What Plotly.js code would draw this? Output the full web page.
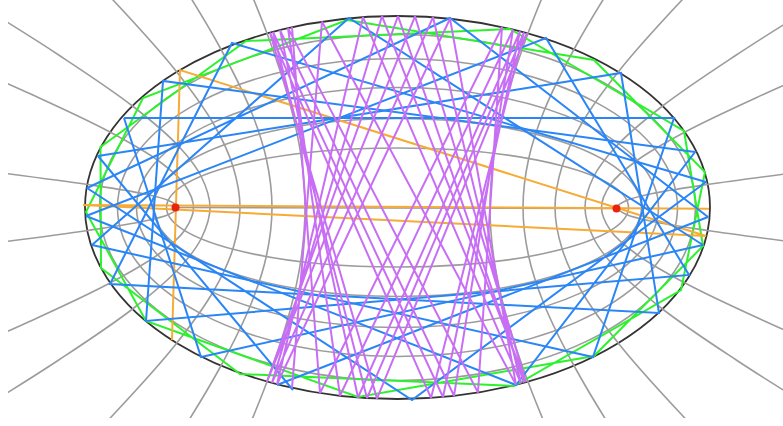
<!DOCTYPE html>
<html><head><meta charset="utf-8">
<script src="https://cdn.plot.ly/plotly-3.0.1.min.js"></script>
<style>html,body{margin:0;padding:0;background:#fff}</style></head>
<body><div id="chart" style="width:783px;height:426px"></div>
<script>
// Picture coordinates
const centerX = 397.5, centerY = 207.5;
const gridSemiMajor = [231, 244, 261, 280, 298];
const gridSemiMinor = [59.5, 89, 120, 149, 173];
const rimSemiMajor = 312.5, rimSemiMinor = 191.5;
const focalSegmentX = [175.5, 616.5];
const focalSegmentY = [207.5, 208.5];

// One quarter of every grid hyperbola, as offsets from the centre
const hyper1X = [219, 229, 255, 310, 395];
const hyper1Y = [0, 7, 14, 23, 34.5];
const hyper2X = [204, 213, 238, 288.5, 368, 420];
const hyper2Y = [0, 23, 46, 76, 114, 137];
const hyper3X = [187.5, 196, 218.6, 265, 338, 419, 522];
const hyper3Y = [0, 30.5, 61, 101.5, 152, 203, 264];
const hyper4X = [157.5, 164.5, 183.6, 222.7, 284, 352];
const hyper4Y = [0, 41, 83, 138, 207, 276];
const hyper5X = [125.5, 131, 146.3, 177.5, 226, 281];
const hyper5Y = [0, 48, 96, 160, 240, 320];
const hyper6X = [92.5, 96.6, 107.9, 130.8, 166.8, 200];
const hyper6Y = [0, 52.5, 105, 175, 262, 335];

const greenX = [510, 684, 703, 594, 358, 146, 86, 143, 347, 594, 705, 681, 514, 240, 101, 100.5, 246, 510];
const greenY = [29, 131, 246, 356, 397, 321, 212, 98, 20, 60, 172, 290, 386, 374, 268, 147, 41, 29];

const blueAX = [124, 674, 593, 92, 349, 703, 201, 124];
const blueAY = [118, 118, 357, 245, 18, 245, 357, 118];
const blueBX = [86, 546, 689, 146, 163, 695, 516, 86];
const blueBY = [216, 38, 275, 321, 81, 152, 385, 216];
const blueCX = [293, 98, 621, 659, 110, 232, 706, 412, 87, 450, 708, 277];
const blueCY = [390, 156, 73, 313, 284, 43, 182, 400, 188, 18, 217, 385];

const purpleAX = [527, 377, 270, 431, 524, 367, 273, 443, 520, 358, 280, 454, 513, 340, 288, 478, 502, 320, 292];
const purpleAY = [33.2, 398.6, 32.7, 397.9, 32.4, 398.1, 31.9, 397, 31.3, 397.5, 30.1, 395.8, 29.6, 395.7, 28.1, 392.5, 27, 393, 27.2];
const purpleBX = [292, 322, 516, 450, 277, 363, 521, 433, 272, 382, 526, 415, 267, 398, 524];
const purpleBY = [387.8, 21.7, 384.7, 18.7, 384.2, 17.2, 383.4, 17.2, 382.9, 16.2, 382.1, 16.3, 381.5, 16, 382.6];

const orangeX = [172, 180, 706, 83, 709];
const orangeY = [340, 70, 236, 205, 208.7];
const dotX = [175.5, 616.5];
const dotY = [207.5, 208.5];

const GREY = '#9c9c9c', GREEN = '#2cf22c', BLUE = '#2a86f7', PURPLE = '#c86ef5', ORANGE = '#f7ab35', RED = '#e8250c', RIM = '#333333';

const traces = [];
function addBranches(hx, hy) {
  const ys = hy.slice().reverse().map(v => centerY - v).concat(hy.slice(1).map(v => centerY + v));
  const xs = hx.slice().reverse().concat(hx.slice(1));
  [-1, 1].forEach(side => traces.push({
    type: 'scatter', mode: 'lines', hoverinfo: 'skip',
    x: xs.map(v => centerX + side * v), y: ys,
    line: {color: GREY, width: 1.6, shape: 'spline', smoothing: 1}
  }));
}
[[hyper1X, hyper1Y], [hyper2X, hyper2Y], [hyper3X, hyper3Y], [hyper4X, hyper4Y], [hyper5X, hyper5Y], [hyper6X, hyper6Y]]
  .forEach(h => addBranches(h[0], h[1]));
traces.push({type: 'scatter', mode: 'lines', x: focalSegmentX, y: focalSegmentY, line: {color: GREY, width: 1.6}});
function addPath(x, y, color) {
  traces.push({type: 'scatter', mode: 'lines', x: x, y: y, line: {color: color, width: 2}});
}
addPath(greenX, greenY, GREEN);
addPath(orangeX, orangeY, ORANGE);
addPath(blueAX, blueAY, BLUE);
addPath(blueBX, blueBY, BLUE);
addPath(blueCX, blueCY, BLUE);
addPath(purpleAX, purpleAY, PURPLE);
addPath(purpleBX, purpleBY, PURPLE);
traces.push({type: 'scatter', mode: 'markers', x: dotX, y: dotY, marker: {color: RED, size: 8}});

const shapes = gridSemiMajor.map((a, i) => ({
  type: 'circle', xref: 'x', yref: 'y', layer: 'below',
  x0: centerX - a, x1: centerX + a, y0: centerY - gridSemiMinor[i], y1: centerY + gridSemiMinor[i],
  line: {color: GREY, width: 1.6}
}));
shapes.push({
  type: 'circle', xref: 'x', yref: 'y', layer: 'below',
  x0: centerX - rimSemiMajor, x1: centerX + rimSemiMajor, y0: centerY - rimSemiMinor, y1: centerY + rimSemiMinor,
  line: {color: RIM, width: 1.8}
});

const hidden = {visible: false, fixedrange: true, showgrid: false, zeroline: false};
Plotly.newPlot('chart', traces, {
  width: 783, height: 426, showlegend: false,
  margin: {l: 8, r: 0, t: 0, b: 8, pad: 0},
  paper_bgcolor: '#ffffff', plot_bgcolor: '#ffffff',
  xaxis: Object.assign({range: [8, 783]}, hidden),
  yaxis: Object.assign({range: [418, 0]}, hidden),
  shapes: shapes
}, {staticPlot: true, displayModeBar: false});
</script></body></html>
